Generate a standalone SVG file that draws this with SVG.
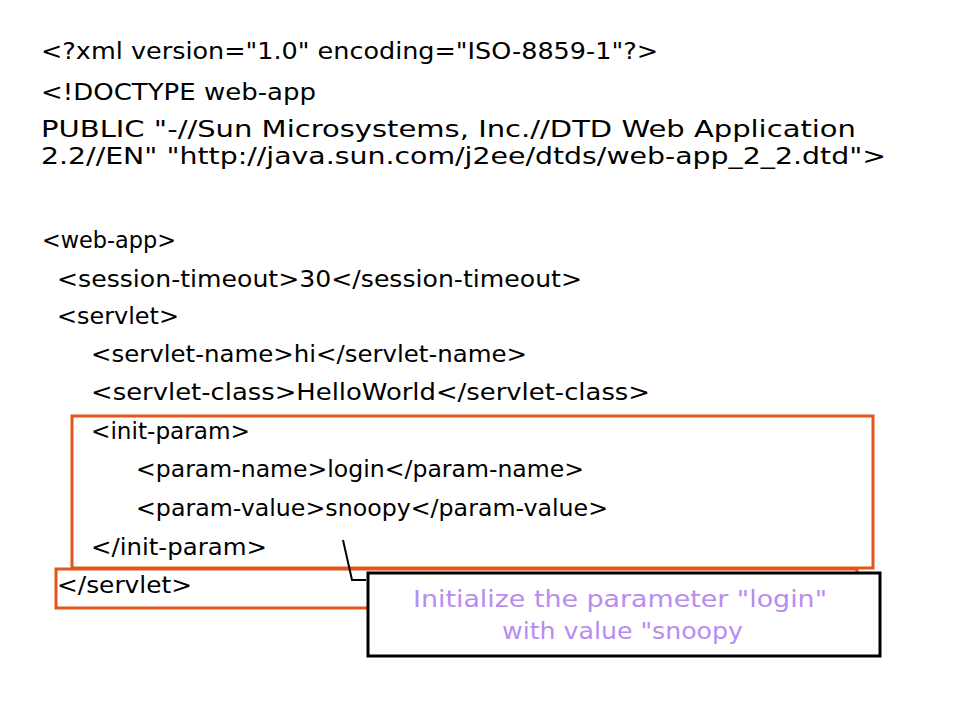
<svg xmlns="http://www.w3.org/2000/svg" width="960" height="720" viewBox="0 0 960 720">
<style>
.code{font-family:"DejaVu Sans","Liberation Sans",sans-serif;font-size:23px;fill:#000}
.note{font-family:"DejaVu Sans","Liberation Sans",sans-serif;font-size:23px;fill:#b88cf0}
.hl{fill:none;stroke:#e0561b;stroke-width:3}
</style>
<rect width="960" height="720" fill="#fff"/>
<g id="code">
<text class="code" x="41" y="59" textLength="617" lengthAdjust="spacingAndGlyphs">&lt;?xml version="1.0" encoding="ISO-8859-1"?&gt;</text>
<text class="code" x="41" y="100" textLength="275" lengthAdjust="spacingAndGlyphs">&lt;!DOCTYPE web-app</text>
<text class="code" x="41" y="137" textLength="815" lengthAdjust="spacingAndGlyphs">PUBLIC "-//Sun Microsystems, Inc.//DTD Web Application</text>
<text class="code" x="41" y="164" textLength="845" lengthAdjust="spacingAndGlyphs">2.2//EN" "http://java.sun.com/j2ee/dtds/web-app_2_2.dtd"&gt;</text>
<text class="code" x="42" y="248" textLength="134" lengthAdjust="spacingAndGlyphs">&lt;web-app&gt;</text>
<text class="code" x="57" y="287" textLength="525" lengthAdjust="spacingAndGlyphs">&lt;session-timeout&gt;30&lt;/session-timeout&gt;</text>
<text class="code" x="57" y="324" textLength="122" lengthAdjust="spacingAndGlyphs">&lt;servlet&gt;</text>
<text class="code" x="91" y="362" textLength="436" lengthAdjust="spacingAndGlyphs">&lt;servlet-name&gt;hi&lt;/servlet-name&gt;</text>
<text class="code" x="91" y="400" textLength="559" lengthAdjust="spacingAndGlyphs">&lt;servlet-class&gt;HelloWorld&lt;/servlet-class&gt;</text>
</g>
<g id="init-param-box">
<rect class="hl" x="72" y="416" width="801" height="152"/>
<text class="code" x="91" y="439" textLength="159" lengthAdjust="spacingAndGlyphs">&lt;init-param&gt;</text>
<text class="code" x="136" y="477" textLength="448" lengthAdjust="spacingAndGlyphs">&lt;param-name&gt;login&lt;/param-name&gt;</text>
<text class="code" x="136" y="516" textLength="472" lengthAdjust="spacingAndGlyphs">&lt;param-value&gt;snoopy&lt;/param-value&gt;</text>
<text class="code" x="91" y="555" textLength="176" lengthAdjust="spacingAndGlyphs">&lt;/init-param&gt;</text>
</g>
<g id="servlet-box">
<rect class="hl" x="56" y="569" width="801" height="39"/>
<text class="code" x="57" y="593" textLength="135" lengthAdjust="spacingAndGlyphs">&lt;/servlet&gt;</text>
</g>
<g id="callout">
<rect x="368" y="573" width="512" height="83" fill="#fff" stroke="#000" stroke-width="3"/>
<text class="note" x="413" y="607" textLength="414" lengthAdjust="spacingAndGlyphs">Initialize the parameter "login"</text>
<text class="note" x="502" y="639" textLength="241" lengthAdjust="spacingAndGlyphs">with value "snoopy</text>
</g>
<g id="connectors">
<polyline points="343,540 352,580 366,580" fill="none" stroke="#000" stroke-width="2"/>
</g>
</svg>
